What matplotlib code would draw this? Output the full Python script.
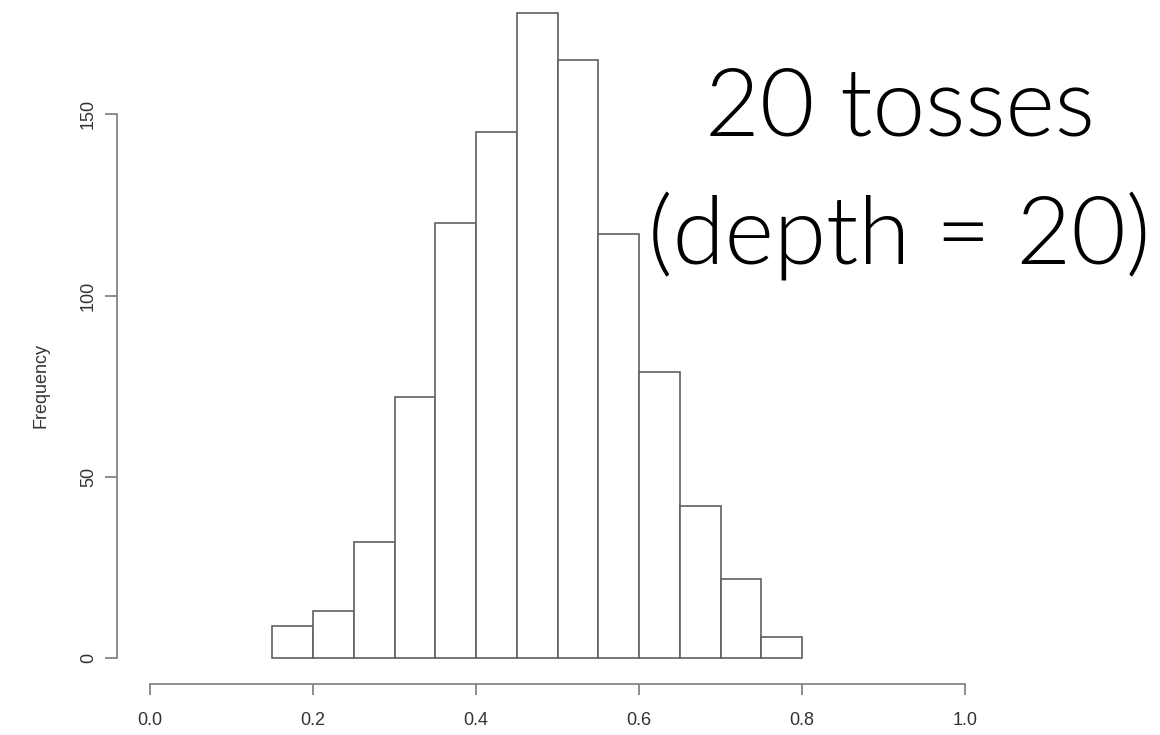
import matplotlib
matplotlib.use("Agg")
import matplotlib.pyplot as plt
import numpy as np

# histogram of the proportion of heads, bins 0.05 wide
bin_edges = [0.15, 0.20, 0.25, 0.30, 0.35, 0.40, 0.45, 0.50,
             0.55, 0.60, 0.65, 0.70, 0.75, 0.80]
counts = [9, 13, 32, 72, 120, 145, 178, 165, 117, 79, 42, 22, 6]

x_ticks = [0.0, 0.2, 0.4, 0.6, 0.8, 1.0]
x_tick_labels = ["0.0", "0.2", "0.4", "0.6", "0.8", "1.0"]
y_ticks = [0, 50, 100, 150]

W, H = 1160, 735
fig = plt.figure(figsize=(W / 100, H / 100), dpi=100)
fig.patch.set_facecolor("white")

# axes box in pixels (left, bottom, right, top)
left, bottom, right, top = 117, 684, 1000, 5
ax = fig.add_axes([left / W, 1 - bottom / H, (right - left) / W, (bottom - top) / H])

# data range chosen so 0..1 and 0..150 sit where the R device puts them
ax.set_xlim((left - 150) / 815, (right - 150) / 815)
ax.set_ylim((658.3 - bottom) / 3.627, (658.3 - top) / 3.627)

edges = np.array(bin_edges)
ax.bar(edges[:-1], counts, width=np.diff(edges), align="edge",
       facecolor="white", edgecolor="#606060", linewidth=1.2)

line_col = "#7a7a7a"
text_col = "#333333"
for side in ["top", "right"]:
    ax.spines[side].set_visible(False)
ax.spines["left"].set_bounds(0, 150)
ax.spines["bottom"].set_bounds(0, 1)
for side in ["left", "bottom"]:
    ax.spines[side].set_color(line_col)
    ax.spines[side].set_linewidth(1.2)

ax.set_xticks(x_ticks)
ax.set_xticklabels(x_tick_labels)
ax.set_yticks(y_ticks)
ax.set_yticklabels([str(v) for v in y_ticks], rotation=90, va="center")
ax.tick_params(axis="x", direction="out", length=8, width=1.2, color=line_col,
               pad=12, labelsize=13, labelcolor=text_col)
ax.tick_params(axis="y", direction="out", length=8.5, width=1.2, color=line_col,
               pad=6, labelsize=13, labelcolor=text_col)
for lab in ax.get_xticklabels() + ax.get_yticklabels():
    lab.set_family("Liberation Sans")

fig.text(41 / W, 1 - 385 / H, "Frequency", rotation=90, ha="center", va="center",
         fontsize=13, color=text_col, family="Liberation Sans")

# Lato Light (weight 300); the named weight "light" maps to 200 in matplotlib
fig.text(900 / W, 1 - 136 / H, "20 tosses", ha="center", va="baseline",
         fontsize=68, family="Lato", fontweight=300, color="black")
fig.text(899 / W, 1 - 264 / H, "(depth = 20)", ha="center", va="baseline",
         fontsize=68, family="Lato", fontweight=300, color="black")

fig.savefig("out.png", dpi=100, facecolor="white")
